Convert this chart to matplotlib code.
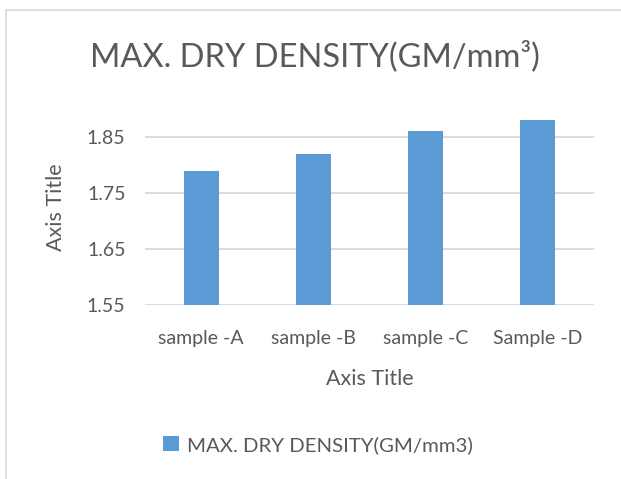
import matplotlib.pyplot as plt
from matplotlib.patches import Rectangle, Patch

samples = ["sample -A", "sample -B", "sample -C", "Sample -D"]
density = [1.79, 1.82, 1.86, 1.88]
yticks = [1.55, 1.65, 1.75, 1.85]

plt.rcParams['font.family'] = ['Lato', 'DejaVu Sans']
text_col = "#595959"
bar_col = "#5B9BD5"
grid_col = "#D9D9D9"

fig = plt.figure(figsize=(6.21, 4.79), dpi=100)
# chart border (only left and top visible in the crop)
fig.patches.append(Rectangle((6 / 621, -0.1), 1.2, 1 - 10 / 479 + 0.1,
                             transform=fig.transFigure, fill=False,
                             edgecolor=grid_col, linewidth=1.2))

ax = fig.add_axes([145 / 621, 1 - 305 / 479, (594 - 145) / 621, (305 - 109) / 479])
x = range(len(samples))
ax.bar(x, density, width=0.31, color=bar_col, zorder=3)
ax.set_xlim(-0.5, len(samples) - 0.5)
ax.set_ylim(1.55, 1.9)
ax.set_yticks(yticks)
ax.set_yticklabels(["{:.2f}".format(v) for v in yticks])
ax.set_xticks(list(x))
ax.set_xticklabels(samples)
ax.tick_params(length=0, labelsize=14, colors=text_col)
ax.tick_params(axis='x', pad=18)
ax.tick_params(axis='y', pad=14)
for s in ax.spines.values():
    s.set_visible(False)
for v in yticks:
    ax.axhline(v, color=grid_col, linewidth=1.3, zorder=1)

ax.set_xlabel("Axis Title", fontsize=15.5, color=text_col, labelpad=16)
ax.set_ylabel("Axis Title", fontsize=15.5, color=text_col, labelpad=15)

fig.text(315 / 621, 1 - 56 / 479, "MAX. DRY DENSITY(GM/mm³)", ha='center', va='center',
         fontsize=23.5, color=text_col)

handle = Patch(facecolor=bar_col, edgecolor='none')
fig.legend([handle], ["MAX. DRY DENSITY(GM/mm3)"], loc='center',
           bbox_to_anchor=(318 / 621, 1 - 445 / 479), frameon=False,
           fontsize=14.7, labelcolor=text_col, handlelength=0.75, handleheight=0.75,
           handletextpad=0.4)

fig.savefig("out.png", dpi=100)
